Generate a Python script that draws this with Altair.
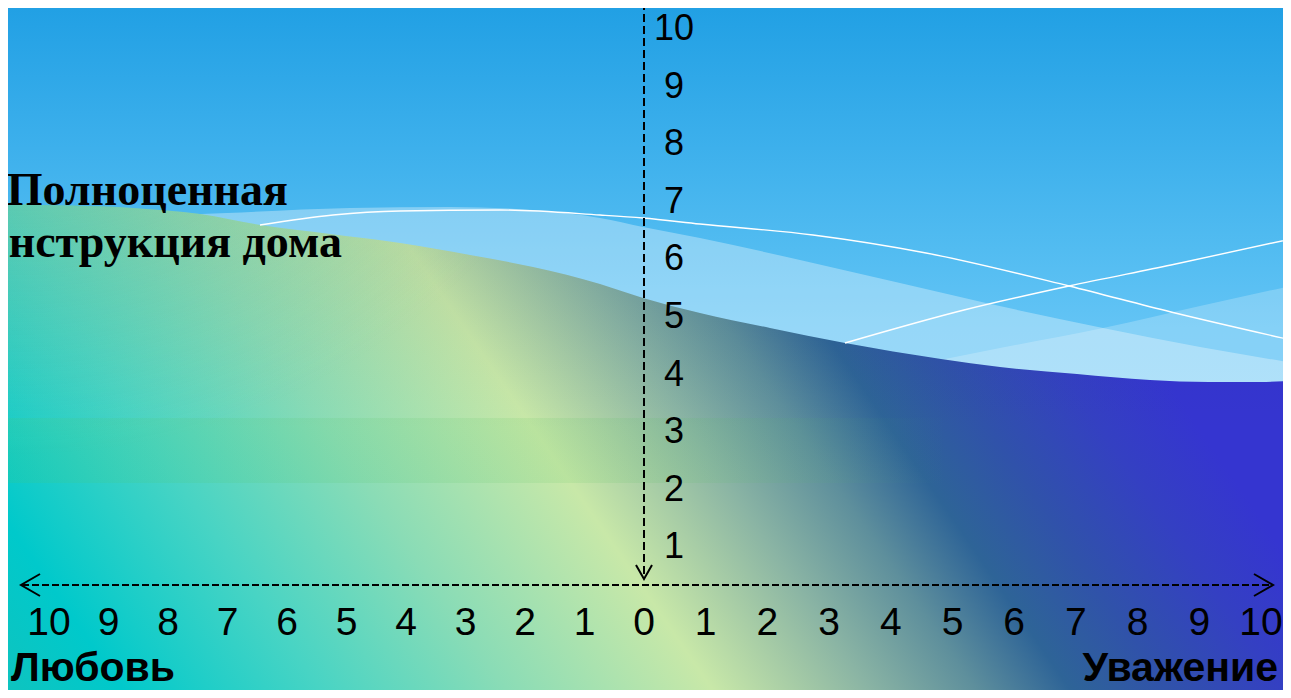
import altair as alt
import pandas as pd

# ---------------- chart values ----------------
x_ticks = list(range(-10, 11))          # horizontal scale: Любовь (left) ... Уважение (right)
y_ticks = list(range(1, 11))            # vertical scale 1..10
x_tick_text = [str(abs(t)) for t in x_ticks]
y_tick_text = [str(t) for t in y_ticks]
left_title = "Любовь"
right_title = "Уважение"
note_lines = ["Полноценная", "нструкция дома"]

# ---------------- decorative background outlines (screen px) ----------------
dark_top_px = [-10, 0, 133, 200, 260, 330, 400, 470, 533, 600, 643, 700, 770, 845, 941, 1000, 1077, 1150, 1209, 1260, 1300]
dark_top_py = [202, 203, 208, 214, 225, 234, 243, 255, 267, 284, 298, 313, 328, 343, 359, 367, 374, 380, 382, 382, 380]
band1_px = [150, 227, 350, 450, 533, 600, 643, 700, 800, 900, 986, 1103, 1200, 1300]
band1_py = [216, 213, 208, 207, 210, 218, 227, 238, 260, 283, 303, 328, 347, 364]
band2_px = [930, 1000, 1103, 1200, 1300]
band2_py = [362, 348, 328, 306, 284]
lineA_px = [260, 333, 400, 500, 600, 643, 700, 813, 926, 1069, 1171, 1300]
lineA_py = [225, 215, 211, 210, 215, 218, 224, 235, 253, 286, 312, 342]
lineB_px = [845, 964, 1069, 1171, 1300]
lineB_py = [343, 310, 286, 265, 237]


def U(px):
    return (px - 644) / 59.5 if px < 644 else (px - 644) / 61.7


def V(py):
    return (603 - py) / 57.6


xs = alt.Scale(domain=[-10, 0, 10], range=[41, 636, 1253], nice=False, zero=False)
ys = alt.Scale(domain=[0, 10], range=[595, 19], nice=False, zero=False)


def X(f="u"):
    return alt.X(f, type="quantitative", scale=xs, axis=None)


def Y(f="v"):
    return alt.Y(f, type="quantitative", scale=ys, axis=None)


BOTTOM = V(710)
TOP = V(-10)

# sky
sky_df = pd.DataFrame({"u": [U(-10)], "u2": [U(1300)], "v": [TOP], "v2": [BOTTOM]})
sky = alt.Chart(sky_df).mark_rect(
    color=alt.LinearGradient(
        gradient="linear", x1=0, y1=0, x2=0, y2=1,
        stops=[
            alt.GradientStop(color="#1E9EE3", offset=0.0),
            alt.GradientStop(color="#3DB0EC", offset=0.22),
            alt.GradientStop(color="#52BCF1", offset=0.36),
            alt.GradientStop(color="#63C4F5", offset=0.47),
            alt.GradientStop(color="#80D0F8", offset=1.0),
        ],
    )
).encode(x=X("u"), x2="u2", y=Y("v"), y2="v2")


def area_df(pxs, pys):
    return pd.DataFrame({"u": [U(p) for p in pxs], "v": [V(p) for p in pys], "v2": [BOTTOM] * len(pxs)})


band1 = alt.Chart(area_df(band1_px, band1_py)).mark_area(
    color="white", opacity=0.33, interpolate="monotone"
).encode(x=X(), y=Y(), y2="v2")
band2 = alt.Chart(area_df(band2_px, band2_py)).mark_area(
    color="white", opacity=0.22, interpolate="monotone"
).encode(x=X(), y=Y(), y2="v2")

dark_df = area_df(dark_top_px, dark_top_py)
dark = alt.Chart(dark_df).mark_area(
    interpolate="monotone",
    color=alt.LinearGradient(
        gradient="linear", x1=0, y1=1, x2=1, y2=0.734,
        stops=[
            alt.GradientStop(color="#12C2BC", offset=0.0),
            alt.GradientStop(color="#00C9CB", offset=0.104),
            alt.GradientStop(color="#48D4C4", offset=0.246),
            alt.GradientStop(color="#8ADCB6", offset=0.378),
            alt.GradientStop(color="#C8E8A8", offset=0.525),
            alt.GradientStop(color="#8AB4A4", offset=0.637),
            alt.GradientStop(color="#5E8F9C", offset=0.713),
            alt.GradientStop(color="#2E6497", offset=0.78),
            alt.GradientStop(color="#3052AA", offset=0.85),
            alt.GradientStop(color="#3440C2", offset=0.93),
            alt.GradientStop(color="#3535D0", offset=1.0),
        ],
    ),
).encode(x=X(), y=Y(), y2="v2")

shade = alt.Chart(dark_df).mark_area(
    interpolate="monotone",
    color=alt.LinearGradient(
        gradient="linear", x1=0, y1=0, x2=0, y2=1,
        stops=[
            alt.GradientStop(color="rgba(20,50,80,0.10)", offset=0.0),
            alt.GradientStop(color="rgba(20,50,80,0)", offset=0.45),
        ],
    ),
).encode(x=X(), y=Y(), y2="v2")

tint = alt.Chart(dark_df).mark_area(
    interpolate="monotone",
    color=alt.RadialGradient(
        gradient="radial", x1=0.02, y1=0.0, r1=0, x2=0.02, y2=0.0, r2=0.5,
        stops=[
            alt.GradientStop(color="rgba(150,220,160,0.65)", offset=0.0),
            alt.GradientStop(color="rgba(150,220,160,0.3)", offset=0.5),
            alt.GradientStop(color="rgba(150,220,160,0)", offset=1.0),
        ],
    ),
).encode(x=X(), y=Y(), y2="v2")

strip_df = pd.DataFrame({"u": [U(-10)], "u2": [U(950)], "v": [V(418)], "v2": [V(483)]})
strip = alt.Chart(strip_df).mark_rect(
    color=alt.LinearGradient(
        gradient="linear", x1=0, y1=0, x2=1, y2=0,
        stops=[
            alt.GradientStop(color="rgba(80,200,90,0.13)", offset=0.0),
            alt.GradientStop(color="rgba(80,190,90,0.12)", offset=0.7),
            alt.GradientStop(color="rgba(80,190,90,0)", offset=1.0),
        ],
    )
).encode(x=X("u"), x2="u2", y=Y("v"), y2="v2")


def line_df(pxs, pys):
    return pd.DataFrame({"u": [U(p) for p in pxs], "v": [V(p) for p in pys]})


lineA = alt.Chart(line_df(lineA_px, lineA_py)).mark_line(
    color="white", strokeWidth=1.4, interpolate="monotone"
).encode(x=X(), y=Y())
lineB = alt.Chart(line_df(lineB_px, lineB_py)).mark_line(
    color="white", strokeWidth=1.4, interpolate="monotone"
).encode(x=X(), y=Y())

# axes (dashed arrows)
hline = alt.Chart(pd.DataFrame({"u": [U(22)], "u2": [U(1271)], "v": [V(585)]})).mark_rule(
    color="black", strokeWidth=2, strokeDash=[7, 3]
).encode(x=X("u"), x2="u2", y=Y("v"))
vline = alt.Chart(pd.DataFrame({"u": [0.0], "v": [TOP], "v2": [V(577)]})).mark_rule(
    color="black", strokeWidth=2, strokeDash=[8, 4]
).encode(x=X("u"), y=Y("v"), y2="v2")

chev_px = [40, 21, 40, 1254, 1273, 1254, 636, 644, 652]
chev_py = [574, 585, 596, 574, 585, 596, 565, 579, 565]
chev_df = pd.DataFrame({
    "u": [U(p) for p in chev_px],
    "v": [V(p) for p in chev_py],
    "g": ["L"] * 3 + ["R"] * 3 + ["D"] * 3,
    "i": [0, 1, 2] * 3,
})
chev = alt.Chart(chev_df).mark_line(color="black", strokeWidth=2).encode(
    x=X(), y=Y(), detail="g:N", order="i:Q"
)

# tick labels
xlab_df = pd.DataFrame({"u": x_ticks, "t": x_tick_text, "v": [V(635)] * len(x_ticks)})
xlab = alt.Chart(xlab_df).mark_text(
    font="Liberation Sans, Arial, sans-serif", fontSize=39, color="black", baseline="alphabetic", align="center"
).encode(x=X(), y=Y(), text="t:N")

ylab_df = pd.DataFrame({"u": [U(674)] * len(y_ticks), "v": y_ticks, "t": y_tick_text})
ylab = alt.Chart(ylab_df).mark_text(
    font="Liberation Sans, Arial, sans-serif", fontSize=36, color="black", baseline="alphabetic", align="center", dy=13
).encode(x=X(), y=Y(), text="t:N")

# titles
lt = alt.Chart(pd.DataFrame({"u": [U(11)], "v": [V(681)], "t": [left_title]})).mark_text(
    font="Liberation Sans, Arial, sans-serif", fontSize=41, fontWeight="bold", color="black",
    align="left", baseline="alphabetic"
).encode(x=X(), y=Y(), text="t:N")
rt = alt.Chart(pd.DataFrame({"u": [U(1278)], "v": [V(681)], "t": [right_title]})).mark_text(
    font="Liberation Sans, Arial, sans-serif", fontSize=41, fontWeight="bold", color="black",
    align="right", baseline="alphabetic"
).encode(x=X(), y=Y(), text="t:N")

note_df = pd.DataFrame({"u": [U(288), U(342)], "v": [V(205), V(257)], "t": note_lines})
note = alt.Chart(note_df).mark_text(
    font="Liberation Serif, Times New Roman, serif", fontSize=46, fontWeight="bold", color="black",
    align="right", baseline="alphabetic"
).encode(x=X(), y=Y(), text="t:N")

chart = alt.layer(
    sky, band1, band2, dark, shade, tint, strip, lineA, lineB, hline, vline, chev, xlab, ylab, lt, rt, note
).properties(
    width=1275, height=682, padding=0, autosize=alt.AutoSizeParams(type="none")
).configure_view(strokeWidth=0)

chart.save("out.html", embed_options={"renderer": "svg", "actions": False})
